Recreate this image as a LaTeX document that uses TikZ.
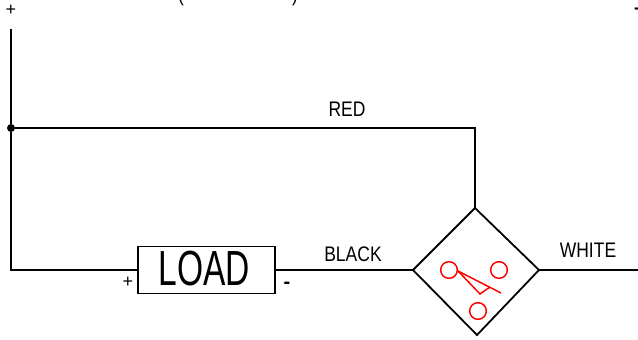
\documentclass[tikz,border=0pt]{standalone}
\usepackage{fontspec}
\setmainfont{Liberation Sans}
\newfontfamily\narrowfont[FakeStretch=0.83]{Liberation Sans}
\newfontfamily\loadfont[FakeStretch=0.68]{Liberation Sans}
\tikzset{
  wire/.style={line width=1.35pt},
  contact/.style={draw=red,circle,line width=1.1pt,minimum size=12.5pt,inner sep=0pt},
  lever/.style={draw=red,line width=1.1pt,line join=miter},
  wirelabel/.style={inner sep=0pt,font=\narrowfont\fontsize{15.8}{18}\selectfont},
  signlabel/.style={inner sep=0pt,font=\fontsize{13.5}{15}\selectfont}
}
\begin{document}
\begin{tikzpicture}[x=0.75pt,y=-0.75pt]
  \useasboundingbox (0,0) rectangle (638,339);
  \coordinate (supply) at (11,29);
  \coordinate (wireend) at (638,270);
  \coordinate (swtop) at (475,208);
  \coordinate (swright) at (539,270);
  \coordinate (swbottom) at (477,335);
  \coordinate (swleft) at (413,270);
  \node[draw,wire,minimum width=102.75pt,minimum height=35.25pt,inner sep=0pt] (load) at (206.5,270) {};
  \node[inner sep=0pt,font=\loadfont\fontsize{37}{42}\selectfont] (loadtext) at (204.5,268.5) {LOAD};
  \node[circle,fill=black,inner sep=0pt,minimum size=6pt] (junction) at (11,128) {};
  \draw[wire,line join=miter] (swtop) -- (swright) -- (swbottom) -- (swleft) -- cycle;
  \draw[wire] (supply) -- (junction) |- (load.west);
  \draw[wire] (junction) -| (swtop);
  \draw[wire] (load.east) -- (swleft);
  \draw[wire] (swright) -- (wireend);
  % switch contacts
  \node[contact] (common) at (449,270) {};
  \node[contact] (open) at (499,270) {};
  \node[contact] (closed) at (478,311) {};
  \coordinate (pivot) at (458,271);
  \draw[lever] (pivot) -- (501,293);
  \draw[lever] (pivot) -- (480,294) -- (490,287);
  % labels
  \node[wirelabel] (red) at (347,109) {RED};
  \node[wirelabel] (black) at (353,254) {BLACK};
  \node[wirelabel] (white) at (588,250) {WHITE};
  \node[signlabel] (loadplus) at (128,282) {+};
  \node[signlabel,font=\bfseries\fontsize{15}{17}\selectfont] (loadminus) at (287,285) {-};
  \node[signlabel] (supplyplus) at (11,10) {+};
  \node[signlabel,font=\bfseries\fontsize{13}{15}\selectfont] (supplyminus) at (637,11) {-};
  \node[wirelabel] (topleft) at (181,-4) {(};
  \node[wirelabel] (topright) at (295,-4) {)};
\end{tikzpicture}
\end{document}
